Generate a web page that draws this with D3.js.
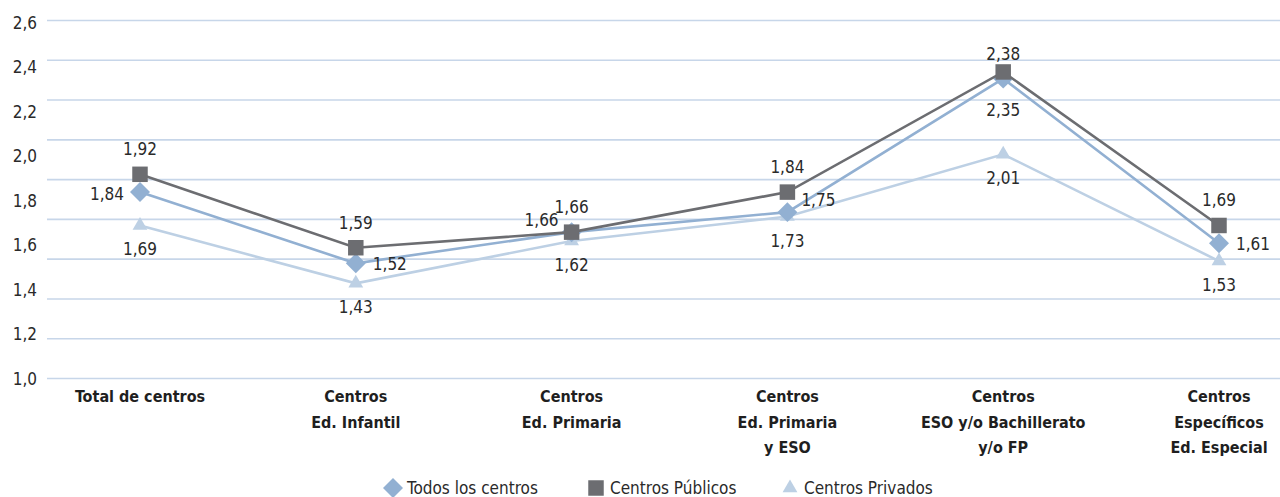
<!DOCTYPE html>
<html>
<head>
<meta charset="utf-8">
<script src="https://cdn.jsdelivr.net/npm/d3@7"></script>
<style>
  html, body { margin: 0; padding: 0; background: #fff; }
  svg { display: block; }
  svg text { font-family: "DejaVu Sans Condensed", "DejaVu Sans", sans-serif; font-stretch: condensed; }
</style>
</head>
<body>
<svg id="chart" width="1280" height="497"></svg>
<script>
// ---- data ----
const categories = [
  ["Total de centros"],
  ["Centros", "Ed. Infantil"],
  ["Centros", "Ed. Primaria"],
  ["Centros", "Ed. Primaria", "y ESO"],
  ["Centros", "ESO y/o Bachillerato", "y/o FP"],
  ["Centros", "Específicos", "Ed. Especial"]
];
const seriesNames = ["Todos los centros", "Centros Públicos", "Centros Privados"];
const todos     = [1.84, 1.52, 1.66, 1.75, 2.35, 1.61];
const publicos  = [1.92, 1.59, 1.66, 1.84, 2.38, 1.69];
const privados  = [1.69, 1.43, 1.62, 1.73, 2.01, 1.53];
const yTicks = [1.0, 1.2, 1.4, 1.6, 1.8, 2.0, 2.2, 2.4, 2.6];

// label placement (style)
const todosPlace    = ["left", "right", "leftUp", "rightUp", "belowFar", "right"];
const publicosPlace = ["above", "above", "above", "above", "aboveNear", "above"];
const privadosPlace = ["below", "below", "below", "below", "below", "below"];

// ---- layout ----
const svg = d3.select("#chart");
const W = 1280;
const x = d3.scalePoint().domain(d3.range(categories.length)).range([140, 1219]);
const y = d3.scaleLinear().domain([1.0, 2.6]).range([379, 23]);
const fmt = v => d3.format(".2f")(v).replace(".", ",");
const textColor = "#2a2a2a";
const FS = 17;

// gridlines (10 evenly spaced rules as in the original)
const g = d3.scaleLinear().domain([0, 9]).range([378.5, 20.5]);
svg.append("g").selectAll("line").data(d3.range(10)).join("line")
  .attr("x1", 47).attr("x2", W)
  .attr("y1", d => g(d)).attr("y2", d => g(d))
  .attr("stroke", "#c7d6e9").attr("stroke-width", 1.6);

// y axis labels
const yAxis = d3.axisLeft(y).tickValues(yTicks).tickSize(0).tickPadding(0)
  .tickFormat(d => d3.format(".1f")(d).replace(".", ","));
const ya = svg.append("g").attr("transform", "translate(37,0)").call(yAxis);
ya.select(".domain").remove();
ya.selectAll("text").attr("font-size", FS).attr("fill", textColor).attr("font-family", null);

// category labels
const cat = svg.append("g");
categories.forEach((lines, i) => {
  const t = cat.append("text").attr("text-anchor", "middle")
    .attr("font-size", 16).attr("font-weight", "bold").attr("fill", "#1f1f1f");
  lines.forEach((ln, j) => {
    t.append("tspan").attr("x", x(i)).attr("y", 402 + j * 25.5).text(ln);
  });
});

// series
const series = [
  { name: seriesNames[2], values: privados, place: privadosPlace, color: "#bdd0e4", shape: "triangle" },
  { name: seriesNames[0], values: todos,    place: todosPlace,    color: "#92b0d2", shape: "diamond" },
  { name: seriesNames[1], values: publicos, place: publicosPlace, color: "#6c6d71", shape: "square" }
];

function marker(sel, shape, color) {
  if (shape === "square") {
    sel.append("path").attr("d", d3.symbol(d3.symbolSquare, 240)()).attr("fill", color);
  } else if (shape === "diamond") {
    sel.append("path").attr("d", d3.symbol(d3.symbolSquare, 200)()).attr("fill", color)
      .attr("transform", "rotate(45)");
  } else {
    sel.append("path").attr("d", d3.symbol(d3.symbolTriangle, 95)()).attr("fill", color);
  }
}

const line = d3.line().x((d, i) => x(i)).y(d => y(d));
series.forEach(s => {
  svg.append("path").datum(s.values).attr("d", line)
    .attr("fill", "none").attr("stroke", s.color).attr("stroke-width", 2.6)
    .attr("stroke-linejoin", "miter");
  s.values.forEach((v, i) => {
    const m = svg.append("g").attr("transform", `translate(${x(i)},${y(v)})`);
    marker(m, s.shape, s.color);
  });
});

// value labels
const offsets = {
  above:     { dx: 0,   dy: -19, anchor: "middle" },
  aboveNear: { dx: 0,   dy: -12, anchor: "middle" },
  below:     { dx: 0,   dy: 30,  anchor: "middle" },
  belowFar:  { dx: 0,   dy: 37,  anchor: "middle" },
  left:      { dx: -16, dy: 8,   anchor: "end" },
  right:     { dx: 17,  dy: 7,   anchor: "start" },
  leftUp:    { dx: -13, dy: -6,  anchor: "end" },
  rightUp:   { dx: 14,  dy: -6,  anchor: "start" }
};
const lab = svg.append("g");
series.forEach(s => {
  s.values.forEach((v, i) => {
    const o = offsets[s.place[i]];
    lab.append("text").attr("x", x(i) + o.dx).attr("y", y(v) + o.dy)
      .attr("text-anchor", o.anchor).attr("font-size", FS).attr("fill", textColor)
      .text(fmt(v));
  });
});

// legend
const legendItems = [
  { name: seriesNames[0], shape: "diamond", color: "#92b0d2", x: 393 },
  { name: seriesNames[1], shape: "square",  color: "#6c6d71", x: 596 },
  { name: seriesNames[2], shape: "triangle", color: "#bdd0e4", x: 790 }
];
const leg = svg.append("g");
legendItems.forEach(it => {
  const m = leg.append("g").attr("transform", `translate(${it.x},488)`);
  marker(m, it.shape, it.color);
  leg.append("text").attr("x", it.x + 14).attr("y", 494)
    .attr("font-size", 17).attr("fill", textColor).text(it.name);
});
</script>
</body>
</html>
